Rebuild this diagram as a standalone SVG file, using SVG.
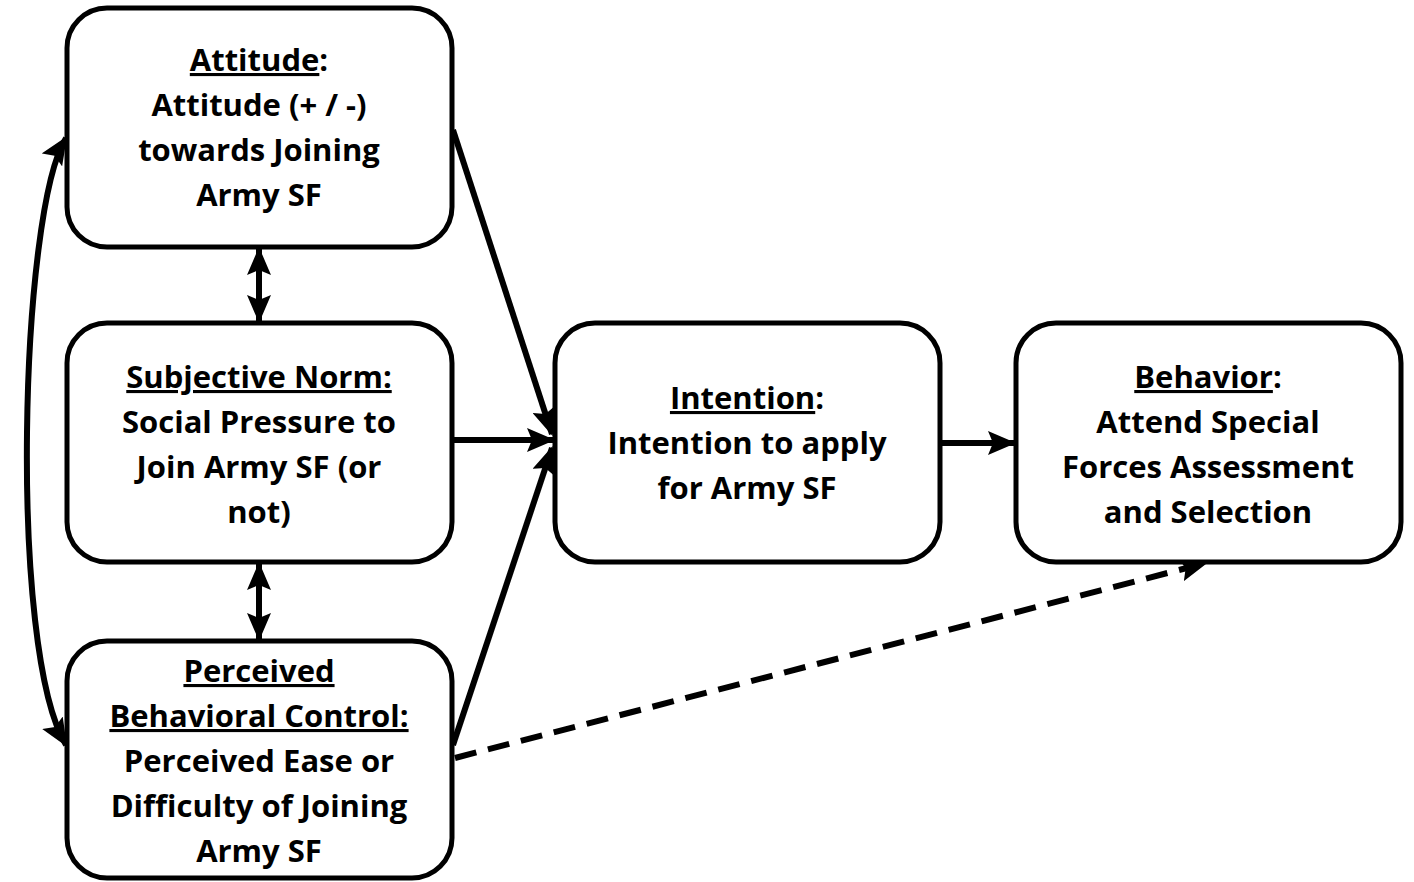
<svg xmlns="http://www.w3.org/2000/svg" width="1414" height="882" viewBox="0 0 1414 882">
<style>
.box{fill:#fff;stroke:#000;stroke-width:5}
.t{font-family:"Open Sans","Liberation Sans",sans-serif;font-weight:bold;font-size:31px;fill:#000;text-anchor:middle}
.u{text-decoration:underline}
.c{fill:none;stroke:#000;stroke-width:6}
.d{stroke-dasharray:22 12}
</style>
<defs>
<marker id="ah" markerUnits="userSpaceOnUse" markerWidth="28" markerHeight="24" refX="26" refY="12" orient="auto-start-reverse" viewBox="0 0 28 24">
<path d="M0,0 L28,12 L0,24 L5,12 Z" fill="#000"/>
</marker>
</defs>
<g id="connectors">
<line class="c" x1="453" y1="130" x2="552" y2="434" marker-end="url(#ah)"/>
<line class="c" x1="453" y1="440" x2="553" y2="440" marker-end="url(#ah)"/>
<line class="c" x1="453" y1="745" x2="552" y2="448" marker-end="url(#ah)"/>
<line class="c d" x1="455" y1="758" x2="1206" y2="563" marker-end="url(#ah)"/>
<line class="c" x1="940" y1="443" x2="1014" y2="443" marker-end="url(#ah)"/>
<line class="c" x1="259" y1="249" x2="259" y2="321" marker-start="url(#ah)" marker-end="url(#ah)"/>
<line class="c" x1="259" y1="564" x2="259" y2="639" marker-start="url(#ah)" marker-end="url(#ah)"/>
<path class="c" d="M66,138 C20,210 8,650 66,745" marker-start="url(#ah)" marker-end="url(#ah)"/>
</g>
<g id="attitude">
<rect class="box" x="67" y="8" width="385" height="239" rx="40"/>
<text class="t" x="259" y="71"><tspan class="u">Attitude</tspan>:</text>
<text class="t" x="259" y="116">Attitude (+ / -)</text>
<text class="t" x="259" y="161">towards Joining</text>
<text class="t" x="259" y="206">Army SF</text>
</g>
<g id="subjective-norm">
<rect class="box" x="67" y="323" width="385" height="239" rx="40"/>
<text class="t" x="259" y="388"><tspan class="u">Subjective Norm:</tspan></text>
<text class="t" x="259" y="433">Social Pressure to</text>
<text class="t" x="259" y="478">Join Army SF (or</text>
<text class="t" x="259" y="523">not)</text>
</g>
<g id="pbc">
<rect class="box" x="67" y="641" width="385" height="237" rx="40"/>
<text class="t" x="259" y="682"><tspan class="u">Perceived</tspan></text>
<text class="t" x="259" y="727"><tspan class="u">Behavioral Control:</tspan></text>
<text class="t" x="259" y="772">Perceived Ease or</text>
<text class="t" x="259" y="817">Difficulty of Joining</text>
<text class="t" x="259" y="862">Army SF</text>
</g>
<g id="intention">
<rect class="box" x="555" y="323" width="385" height="239" rx="40"/>
<text class="t" x="747" y="409"><tspan class="u">Intention</tspan>:</text>
<text class="t" x="747" y="454">Intention to apply</text>
<text class="t" x="747" y="499">for Army SF</text>
</g>
<g id="behavior">
<rect class="box" x="1016" y="323" width="385" height="239" rx="40"/>
<text class="t" x="1208" y="388"><tspan class="u">Behavior</tspan>:</text>
<text class="t" x="1208" y="433">Attend Special</text>
<text class="t" x="1208" y="478">Forces Assessment</text>
<text class="t" x="1208" y="523">and Selection</text>
</g>
</svg>
